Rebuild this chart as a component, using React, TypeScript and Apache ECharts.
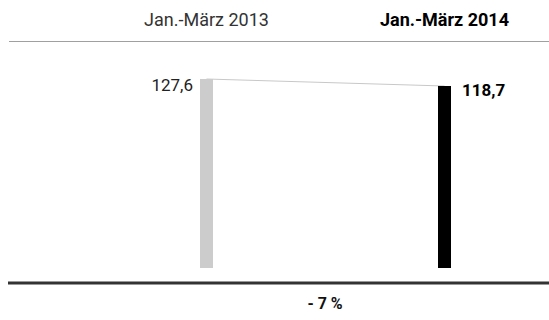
import React, { useEffect, useRef } from "react";
import * as echarts from "echarts";

const categories = ["Jan.-März 2013", "Jan.-März 2014"];
const values = [127.6, 118.7];
const barColors = ["#cccccc", "#000000"];
const valueLabels = ["127,6", "118,7"];

const FONT = "Roboto, 'Noto Sans', sans-serif";

export default function App() {
  const ref = useRef<HTMLDivElement>(null);
  useEffect(() => {
    if (!ref.current) return;
    const chart = echarts.init(ref.current, undefined, { renderer: "svg" });
    const change = Math.round((values[1] / values[0] - 1) * 100);
    const changeText = (change < 0 ? "- " : "+ ") + Math.abs(change) + " %";
    const axisMin = -112.7;
    chart.setOption({
      animation: false,
      textStyle: { fontFamily: FONT },
      grid: { left: 206.5, right: 104.5, top: 40, bottom: 52 },
      xAxis: [
        {
          type: "category",
          data: categories,
          boundaryGap: false,
          axisLine: { show: false },
          axisTick: { show: false },
          axisLabel: { show: false },
        },
        {
          type: "category",
          data: categories,
          position: "top",
          boundaryGap: false,
          axisLine: { show: false },
          axisTick: { show: false },
          axisLabel: {
            margin: 12,
            fontSize: 18,
            color: "#333",
            fontFamily: FONT,
            formatter: (v: string, i: number) => (i === 1 ? "{b|" + v + "}" : v),
            rich: { b: { fontSize: 18, fontWeight: "bold", color: "#000", fontFamily: FONT } },
          },
        },
      ],
      yAxis: {
        type: "value",
        min: axisMin,
        max: 177.2,
        startValue: axisMin,
        show: false,
        splitLine: { show: false },
      },
      series: [
        {
          type: "line",
          data: values,
          symbol: "none",
          lineStyle: { color: "#c8c8c8", width: 1 },
          z: 1,
        },
        {
          type: "bar",
          barWidth: 13,
          clip: false,
          z: 2,
          data: values.map((v, i) => ({
            value: v,
            itemStyle: { color: barColors[i] },
            label: {
              show: true,
              formatter: valueLabels[i],
              position: i === 0 ? [-7, 6] : [24, 4],
              align: i === 0 ? "right" : "left",
              verticalAlign: "middle",
              fontSize: 17,
              fontFamily: FONT,
              fontWeight: i === 0 ? "normal" : "bold",
              color: i === 0 ? "#222" : "#000",
            },
          })),
        },
      ],
      graphic: [
        {
          type: "line",
          shape: { x1: 9, y1: 41.5, x2: 549, y2: 41.5 },
          style: { stroke: "#a0a0a0", lineWidth: 1.2 },
        },
        {
          type: "line",
          shape: { x1: 8, y1: 283, x2: 549, y2: 283 },
          style: { stroke: "#333333", lineWidth: 3 },
        },
        {
          type: "text",
          x: 325,
          y: 303,
          style: {
            text: changeText,
            fontSize: 16,
            fontWeight: "bold",
            fontFamily: FONT,
            fill: "#111",
            align: "center",
            verticalAlign: "middle",
          },
        },
      ],
    });
    return () => chart.dispose();
  }, []);
  return (
    <div
      ref={ref}
      style={{ position: "fixed", left: 0, top: 0, width: 549, height: 320, background: "#fff" }}
    />
  );
}
